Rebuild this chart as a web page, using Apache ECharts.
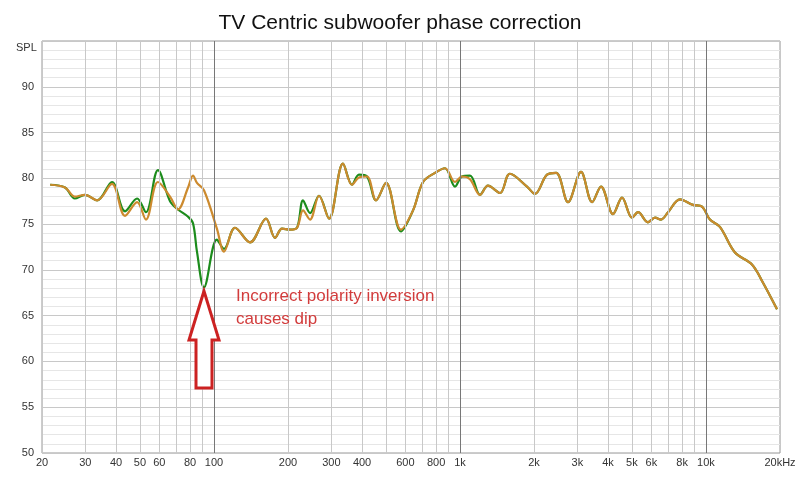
<!DOCTYPE html>
<html><head><meta charset="utf-8">
<script src="https://cdn.jsdelivr.net/npm/echarts@6/dist/echarts.min.js"></script>
<style>html,body{margin:0;background:#fff}#c{width:800px;height:479px}</style>
</head><body><div id="c"></div>
<script>
const freqs = [21.6,24.8,27.2,29.9,33.5,38.5,43.5,48.7,52.9,59.2,66.3,71.4,78.5,82.2,85.3,91.1,102.8,109.9,121.8,140.2,162.8,177.1,189.1,203.8,217.6,230.2,245.8,267.3,293.7,334.6,364,388.7,419,456,500.6,575.9,644.6,707.9,791.9,869.5,955,1019,1099,1206,1300,1455,1596,1873,2018,2260,2460,2749,3105,3445,3744,4190,4559,5004,5297,5810,6208,6566,7014,7843,8855,9640,10379,11397,13120,15380,17060,19450];
const corrected = [79.3,79.0,78.0,78.2,77.6,79.4,75.9,77.4,75.5,79.6,78.0,76.6,79.0,80.3,79.5,78.7,74.5,72.0,74.6,73.0,75.6,73.5,74.5,74.4,74.6,76.5,75.5,78.1,75.6,81.6,79.3,80.1,80.2,77.6,79.5,74.4,76.5,79.6,80.6,81.1,79.6,80.2,79.9,78.2,79.2,78.4,80.5,79.1,78.3,80.4,80.6,77.4,80.7,77.4,79.1,76.1,77.9,75.7,76.3,75.2,75.7,75.5,76.3,77.7,77.1,76.9,75.5,74.7,71.9,70.6,68.6,65.7];
const uncorrected = [79.3,79.0,77.8,78.2,77.6,79.6,76.4,77.8,76.3,80.9,77.5,76.6,75.8,75.1,72.0,68.1,73.3,72.3,74.6,73.0,75.6,73.5,74.5,74.4,74.6,77.6,76.2,78.1,75.6,81.6,79.3,80.4,80.2,77.6,79.5,74.2,76.5,79.6,80.6,81.1,79.1,80.2,80.3,78.2,79.2,78.4,80.5,79.1,78.3,80.4,80.6,77.4,80.7,77.4,79.1,76.1,77.9,75.7,76.3,75.2,75.7,75.5,76.3,77.7,77.1,76.9,75.5,74.7,71.9,70.6,68.6,65.7];
const gridFreqs = [20,30,40,50,60,70,80,90,100,200,300,400,500,600,700,800,900,1000,2000,3000,4000,5000,6000,7000,8000,9000,10000,20000];
const tickLabels = {20:'20',30:'30',40:'40',50:'50',60:'60',80:'80',100:'100',200:'200',300:'300',400:'400',600:'600',800:'800',1000:'1k',2000:'2k',3000:'3k',4000:'4k',5000:'5k',6000:'6k',8000:'8k',10000:'10k',20000:'20kHz'};
const major = [100,1000,10000];
const chart = echarts.init(document.getElementById('c'));
const pairs = a => freqs.map((f,i)=>[f,a[i]]);
chart.setOption({
  animation:false,
  title:{text:'TV Centric subwoofer phase correction',left:'center',top:8,textStyle:{fontFamily:'Arial, Liberation Sans',fontSize:21,fontWeight:'normal',color:'#111'}},
  grid:{left:42,right:20,top:41,bottom:26,show:true,borderColor:'#999',borderWidth:1},
  xAxis:{type:'log',logBase:10,min:20,max:20000,axisLabel:{show:false},axisTick:{show:false},splitLine:{show:false},axisLine:{show:false}},
  yAxis:{type:'value',min:50,max:95,interval:5,axisLabel:{showMaxLabel:false,color:'#333',fontSize:11,fontFamily:'Arial, Liberation Sans'},
    axisLine:{show:false},axisTick:{show:false},splitLine:{lineStyle:{color:'#c8c8c8'}},
    minorTick:{show:false,splitNumber:5},minorSplitLine:{show:true,lineStyle:{color:'#e6e6e6'}}},
  graphic:[
    {type:'text',z:100,left:16,top:42,style:{text:'SPL',fontSize:11,fill:'#333',fontFamily:'Arial, Liberation Sans'}},
    {type:'text',z:100,left:236,top:285,style:{text:'Incorrect polarity inversion\ncauses dip',fontSize:17,lineHeight:23,fill:'#d23c3c',fontFamily:'Arial, Liberation Sans'}},
    {type:'polygon',z:100,shape:{points:[[204,291],[189,340],[196,340],[196,388],[212,388],[212,340],[219,340]]},style:{fill:'#fff',stroke:'#cc2222',lineWidth:3}}
  ],
  series:[
    {type:'line',data:[],silent:true,markLine:{symbol:'none',silent:true,animation:false,
      data:gridFreqs.map(f=>({xAxis:f,lineStyle:{color:major.includes(f)?'#777':'#c8c8c8',width:1,type:'solid'},
        label:{show:!!tickLabels[f],formatter:tickLabels[f]||'',position:'start',distance:4,color:'#333',fontSize:11,fontFamily:'Arial, Liberation Sans'}}))}},
    {type:'line',data:pairs(uncorrected),smooth:0.35,showSymbol:false,lineStyle:{color:'#1c8c1c',width:2.2},z:3},
    {type:'line',data:pairs(corrected),smooth:0.35,showSymbol:false,lineStyle:{color:'#cc8a2e',width:2.2},z:4}
  ]
});
</script></body></html>
